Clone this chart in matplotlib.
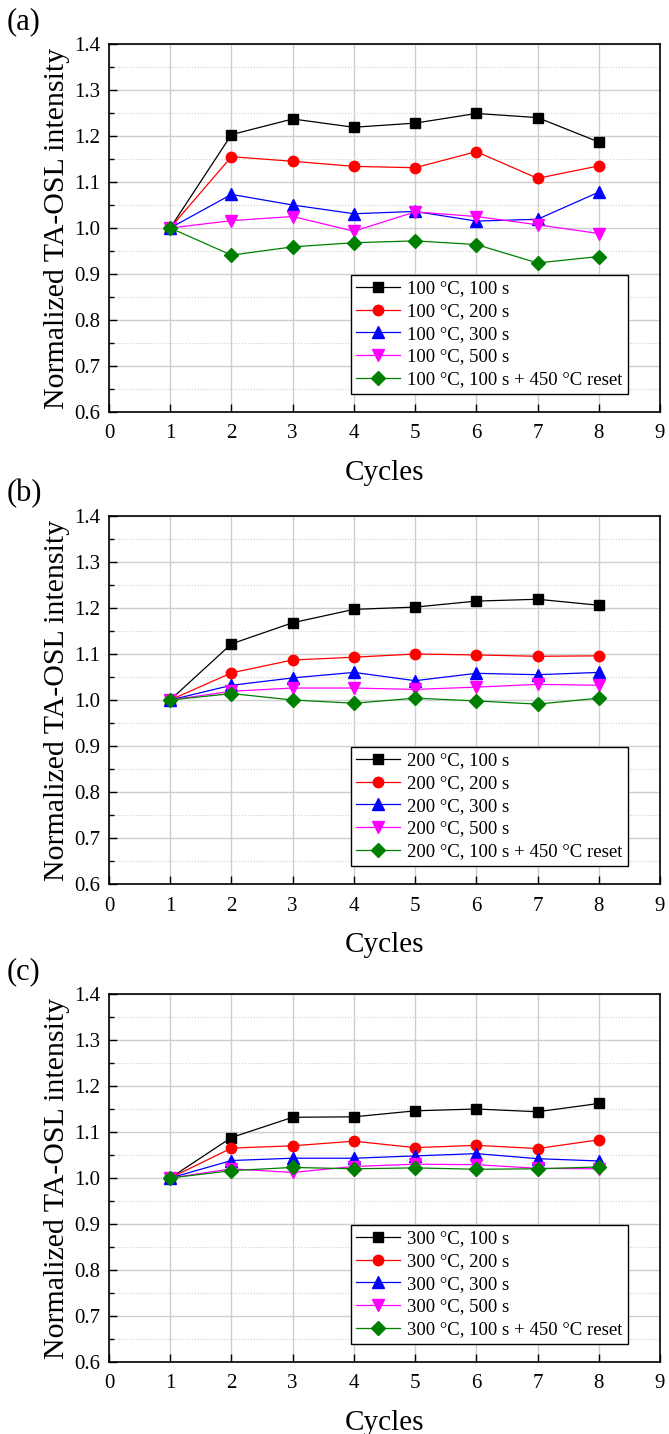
import matplotlib
matplotlib.use("Agg")
import matplotlib.pyplot as plt
import numpy as np
from matplotlib.ticker import MultipleLocator

plt.rcParams['font.family'] = ['Liberation Serif', 'DejaVu Serif']
plt.rcParams['mathtext.fontset'] = 'stix'

cycles = [1, 2, 3, 4, 5, 6, 7, 8]

# panel (a) 100 degC
a_100s = [1.0, 1.203, 1.237, 1.219, 1.228, 1.249, 1.240, 1.187]
a_200s = [1.0, 1.155, 1.145, 1.134, 1.131, 1.166, 1.108, 1.135]
a_300s = [1.0, 1.073, 1.050, 1.031, 1.036, 1.015, 1.019, 1.078]
a_500s = [1.0, 1.016, 1.025, 0.993, 1.035, 1.025, 1.007, 0.988]
a_reset = [1.0, 0.941, 0.959, 0.968, 0.972, 0.964, 0.924, 0.938]

# panel (b) 200 degC
b_100s = [1.0, 1.122, 1.168, 1.197, 1.202, 1.215, 1.219, 1.206]
b_200s = [1.0, 1.059, 1.087, 1.093, 1.100, 1.098, 1.095, 1.096]
b_300s = [1.0, 1.032, 1.048, 1.060, 1.042, 1.058, 1.055, 1.060]
b_500s = [1.0, 1.019, 1.026, 1.026, 1.023, 1.028, 1.034, 1.032]
b_reset = [1.0, 1.014, 1.000, 0.993, 1.004, 0.998, 0.991, 1.004]

# panel (c) 300 degC
c_100s = [1.0, 1.088, 1.132, 1.133, 1.146, 1.150, 1.144, 1.162]
c_200s = [1.0, 1.065, 1.070, 1.080, 1.066, 1.071, 1.064, 1.083]
c_300s = [1.0, 1.038, 1.043, 1.043, 1.048, 1.053, 1.042, 1.037]
c_500s = [1.0, 1.020, 1.012, 1.025, 1.030, 1.029, 1.021, 1.020]
c_reset = [1.0, 1.016, 1.023, 1.020, 1.022, 1.019, 1.020, 1.024]

temps = ['100', '200', '300']
panel_tags = ['(a)', '(b)', '(c)']
panels = [
    [a_100s, a_200s, a_300s, a_500s, a_reset],
    [b_100s, b_200s, b_300s, b_500s, b_reset],
    [c_100s, c_200s, c_300s, c_500s, c_reset],
]

colors = ['black', 'red', 'blue', 'magenta', 'green']
markers = ['s', 'o', '^', 'v', 'D']
msizes = [7.5, 7.5, 8, 8, 7]

fig = plt.figure(figsize=(6.69, 14.34), dpi=100)

left = 109 / 669.
width = (660 - 109) / 669.
tops = [44, 516, 994]
h_px = 368

for i, series in enumerate(panels):
    top = tops[i]
    ax = fig.add_axes([left, 1 - (top + h_px) / 1434., width, h_px / 1434.])
    t = temps[i]
    labels = [t + ' °C, 100 s', t + ' °C, 200 s', t + ' °C, 300 s',
              t + ' °C, 500 s', t + ' °C, 100 s + 450 °C reset']
    for vals, c, m, ms, lab in zip(series, colors, markers, msizes, labels):
        ax.plot(cycles, vals, color=c, marker=m, markersize=ms, linewidth=0.9,
                label=lab, zorder=3)

    ax.set_xlim(0, 9)
    ax.set_ylim(0.6, 1.4)
    ax.xaxis.set_major_locator(MultipleLocator(1))
    ax.yaxis.set_major_locator(MultipleLocator(0.1))
    ax.yaxis.set_minor_locator(MultipleLocator(0.05))
    ax.grid(True, which='major', color='#cfcfcf', linewidth=1.0, zorder=0)
    ax.grid(True, which='minor', axis='y', color='#cfcfcf', linewidth=0.8,
            linestyle=':', zorder=0)
    ax.set_axisbelow(True)
    ax.tick_params(which='both', direction='in', top=False, right=False,
                   labelsize=15)
    ax.tick_params(axis='x', pad=9)
    ax.tick_params(axis='y', pad=6)
    ax.tick_params(which='major', length=6, width=1)
    ax.tick_params(which='minor', length=3.5, width=1)
    ax.yaxis.set_major_formatter(plt.FuncFormatter(lambda v, p: '%.1f' % v))
    for s in ax.spines.values():
        s.set_linewidth(1.2)

    ax.set_xlabel('Cycles', fontsize=21, labelpad=12)
    ax.set_ylabel('Normalized TA-OSL intensity', fontsize=21.5, labelpad=3)

    leg = ax.legend(loc='lower right', bbox_to_anchor=(0.942, 0.049),
                    borderaxespad=0, fontsize=13.5, frameon=True, fancybox=False,
                    edgecolor='black', framealpha=1, handlelength=2.3,
                    labelspacing=0.3, borderpad=0.3, handletextpad=0.4)
    leg.get_frame().set_linewidth(1.0)

    fig.text(7 / 669., 1 - (top - 22) / 1434., panel_tags[i], fontsize=22,
             ha='left', va='center')

fig.savefig('out.png', dpi=100)
